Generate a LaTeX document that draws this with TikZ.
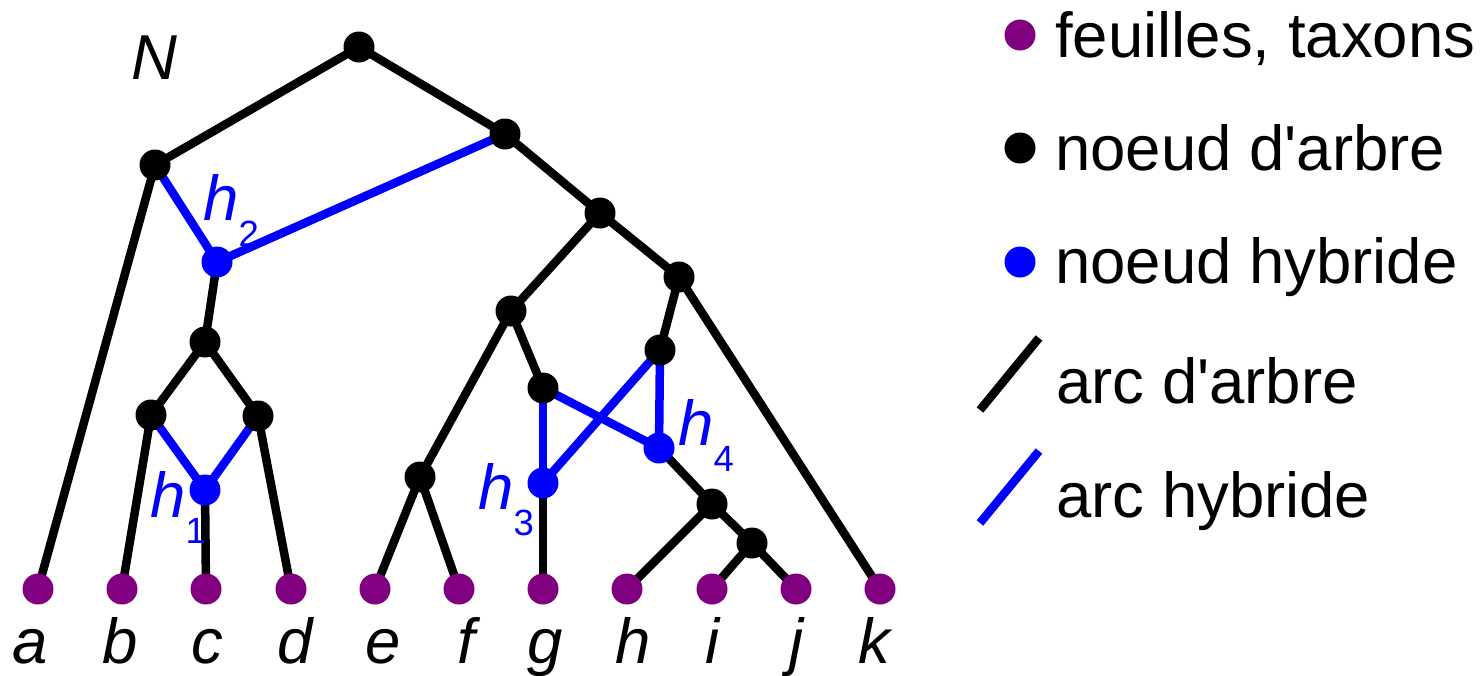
\documentclass[tikz,border=0pt]{standalone}
\usepackage{fontspec}
\setmainfont{Liberation Sans}
\usetikzlibrary{backgrounds}
\definecolor{leafpurple}{RGB}{128,0,128}
\definecolor{hybblue}{RGB}{0,0,255}
\newcommand{\hsub}[1]{\textit{h}\raisebox{-26pt}{\fontsize{36.5}{36.5}\selectfont #1}}
\begin{document}
\begin{tikzpicture}[x=1pt,y=-1pt,
  dot/.style={circle,inner sep=0pt,minimum size=31pt},
  leaf/.style={dot,fill=leafpurple},
  tnode/.style={dot,fill=black},
  hnode/.style={dot,fill=hybblue},
  tarc/.style={line width=8.5pt,draw=black},
  harc/.style={line width=8.5pt,draw=hybblue},
  lbl/.style={font=\fontsize{63.5}{70}\selectfont\itshape,inner sep=0pt,anchor=base},
  hlbl/.style={font=\fontsize{63.5}{70}\selectfont,text=hybblue,inner sep=0pt,anchor=base west},
  legtext/.style={font=\fontsize{63.5}{70}\selectfont,inner sep=0pt,anchor=base west}]
\useasboundingbox (0,0) rectangle (1483,675);
% tree nodes
\node[tnode] (r) at (359,47) {};
\node[tnode] (u) at (155,165) {};
\node[tnode] (v) at (505,134) {};
\node[hnode] (h2) at (217,262) {};
\node[tnode] (w) at (205,342) {};
\node[tnode] (x1) at (151,415) {};
\node[tnode] (x2) at (258,416) {};
\node[hnode] (h1) at (205,490) {};
\node[tnode] (y) at (600,213) {};
\node[tnode] (z) at (679,277) {};
\node[tnode] (p) at (511,311) {};
\node[tnode] (q) at (420,477) {};
\node[tnode] (s) at (543,388) {};
\node[tnode] (t) at (660,350) {};
\node[hnode] (h3) at (543,483) {};
\node[hnode] (h4) at (659,448) {};
\node[tnode] (m) at (712,504) {};
\node[tnode] (n) at (752,543) {};
% leaves
\node[leaf] (a) at (38,589) {};
\node[leaf] (b) at (122,589) {};
\node[leaf] (c) at (206,589) {};
\node[leaf] (d) at (291,589) {};
\node[leaf] (e) at (375,589) {};
\node[leaf] (f) at (459,589) {};
\node[leaf] (g) at (543,589) {};
\node[leaf] (h) at (627,589) {};
\node[leaf] (i) at (712,589) {};
\node[leaf] (j) at (796,589) {};
\node[leaf] (k) at (880,589) {};
% edges
\begin{pgfonlayer}{background}
\foreach \s/\e in {r/u,r/v,u/a,v/y,h2/w,w/x1,w/x2,x1/b,x2/d,h1/c,y/p,y/z,p/q,p/s,q/e,q/f,z/t,z/k,h3/g,h4/m,m/h,m/n,n/i,n/j}
  \draw[tarc] (\s.center) -- (\e.center);
\foreach \s/\e in {u/h2,v/h2,x1/h1,x2/h1,s/h3,s/h4,t/h3,t/h4}
  \draw[harc] (\s.center) -- (\e.center);
\end{pgfonlayer}
% leaf labels
\node[lbl] (la) at (30,663) {a};
\node[lbl] (lb) at (120,663) {b};
\node[lbl] (lc) at (207,663) {c};
\node[lbl] (ld) at (295,663) {d};
\node[lbl] (le) at (383,663) {e};
\node[lbl] (lf) at (466,663) {f};
\node[lbl] (lg) at (545,663) {g};
\node[lbl] (lh) at (633,663) {h};
\node[lbl] (li) at (713,663) {i};
\node[lbl] (lj) at (797,663) {j};
\node[lbl] (lk) at (874,663) {k};
% network name and hybrid labels
\node[lbl,anchor=base west] (lN) at (131,79) {N};
\node[hlbl] (lh2) at (203,220) {\hsub{2}};
\node[hlbl] (lh1) at (150,517) {\hsub{1}};
\node[hlbl] (lh3) at (478,509) {\hsub{3}};
\node[hlbl] (lh4) at (678,445) {\hsub{4}};
% legend
\node[leaf] (k1) at (1020,35) {};
\node[tnode] (k2) at (1020,148) {};
\node[hnode] (k3) at (1020,262) {};
\coordinate (k4a) at (980,410);
\coordinate (k4b) at (1039,338);
\coordinate (k5a) at (980,523);
\coordinate (k5b) at (1039,451);
\draw[tarc] (k4a) -- (k4b);
\draw[harc] (k5a) -- (k5b);
\node[legtext] (t1) at (1055,57) {feuilles, taxons};
\node[legtext] (t2) at (1055,170) {noeud d\textquotesingle arbre};
\node[legtext] (t3) at (1055,283) {noeud hybride};
\node[legtext] (t4) at (1056,403) {arc d\textquotesingle arbre};
\node[legtext] (t5) at (1056,517) {arc hybride};
\end{tikzpicture}
\end{document}
